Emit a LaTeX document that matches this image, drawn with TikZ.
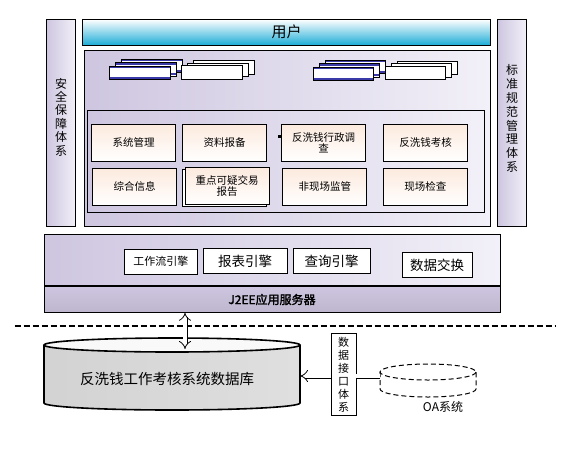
\documentclass[tikz,border=0pt]{standalone}
\usepackage{fontspec}
\newfontfamily\cjk{Noto Sans CJK SC}[AutoFakeBold=2]
\usetikzlibrary{arrows.meta}
\definecolor{lavdark}{RGB}{206,198,224}
\definecolor{lavlight}{RGB}{242,240,248}
\definecolor{peach}{RGB}{252,234,222}
\definecolor{usercyan}{RGB}{28,172,214}
\definecolor{winblue}{RGB}{58,58,168}

\begin{document}
\begin{tikzpicture}[x=1pt, y=-1pt, font=\cjk,
        panel/.style={draw=black, line width=0.9pt, inner sep=0pt, outer sep=0pt, left color=lavdark, right color=lavlight},
        sidebar/.style={panel, minimum width=28.8pt, minimum height=207.4pt},
        vtext/.style={align=center, inner sep=0pt, font=\cjk\fontsize{12}{13.4}\selectfont},
        func/.style={draw=black, line width=0.7pt, inner sep=0pt, top color=peach, bottom color=white, minimum width=84pt, minimum height=37pt, align=center, font=\cjk\fontsize{10.5}{11.5}\selectfont},
        funcshadow/.style={draw=black, line width=0.7pt, fill=white, minimum width=84pt, minimum height=37pt},
        engine/.style={draw=black, line width=0.7pt, fill=white, inner sep=0pt, minimum height=25.5pt, font=\cjk\fontsize{13.5}{15}\selectfont},
        winbox/.style={draw=black, line width=0.6pt, fill=white},
        winboxblue/.style={winbox, path picture={
            \draw[winblue, line width=1.8pt] ([yshift=-1.5pt]path picture bounding box.north west) -- ([yshift=-1.5pt]path picture bounding box.north east);
            \draw[winblue, line width=1.8pt] ([yshift=1.5pt]path picture bounding box.south west) -- ([yshift=1.5pt]path picture bounding box.south east);}},
        pipe/.style={draw=black, line width=0.8pt, double=white, double distance=3.4pt}
    ]
    \fill[white] (0,0) rectangle (570,448);
    \useasboundingbox (0,0) rectangle (570,448);

    % side bars
    \node[sidebar] (safebar) at (61.1,123) {};
    \node[vtext] (safetext) at (61.1,117) {安\\全\\保\\障\\体\\系};
    \node[sidebar] (normbar) at (512,123) {};
    \node[vtext, font=\cjk\fontsize{12}{13.9}\selectfont] (normtext) at (512,118.5) {标\\准\\规\\范\\管\\理\\体\\系};

    % user layer
    \node[draw=black, line width=0.9pt, inner sep=0pt, top color=white, bottom color=usercyan, minimum width=408pt, minimum height=26pt, font=\cjk\fontsize{15}{17}\selectfont] (user) at (286.7,32.3) {用户};

    % application panel
    \node[panel, minimum width=406.4pt, minimum height=176.4pt] (apppanel) at (287.5,138.5) {};
    \foreach \gx/\gy/\gd/\gs in {109.5/66/3.5/winboxblue, 181.7/65.5/2.5/winbox, 313/67/3.5/winboxblue, 385/66/2.5/winbox}{
        \foreach \k in {2,1,0}
            \draw[\gs] ({\gx+6*\k},{\gy-\gd*\k}) rectangle +(60.5,13.3);
    }
    \node[panel, minimum width=397.3pt, minimum height=102pt] (funcpanel) at (285.7,161.3) {};

    \node[func] (sysmgr) at (133.7,142.8) {系统管理};
    \node[func] (report) at (224.5,142.8) {资料报备};
    \node[func] (admininv) at (323.7,142.8) {反洗钱行政调\\查};
    \node[func] (assess) at (425.5,142.8) {反洗钱考核};
    \node[func] (info) at (134.5,186.8) {综合信息};
    \node[funcshadow] (suspshadow) at (224.7,187.8) {};
    \node[func] (susp) at (227.2,185.8) {重点可疑交易\\报告};
    \node[func] (offsite) at (324.8,186.8) {非现场监管};
    \node[func] (onsite) at (425.3,186.8) {现场检查};
    \node[fill=black, minimum size=3pt, inner sep=0pt] (mark) at (279,136.7) {};

    % engine layer
    \node[panel, minimum width=456pt, minimum height=50.7pt] (engpanel) at (272,259.7) {};
    \node[engine, minimum width=73pt, font=\cjk\fontsize{11}{13}\selectfont] (flow) at (160.8,261.7) {工作流引擎};
    \node[engine, minimum width=84pt] (repeng) at (245,261) {报表引擎};
    \node[engine, minimum width=77pt] (query) at (331.5,261) {查询引擎};
    \node[engine, minimum width=70pt] (exchange) at (437,265) {数据交换};
    \node[draw=black, line width=0.9pt, inner sep=0pt, top color=lavdark, middle color=white, bottom color=lavdark!92!black, minimum width=456pt, minimum height=25.6pt, font=\cjk\bfseries\fontsize{12}{14}\selectfont] (j2ee) at (272,299.5) {J2EE应用服务器};

    % separator
    \coordinate (sepL) at (14.6,326);
    \coordinate (sepR) at (554.7,326);
    \draw[line width=1.5pt, dashed, dash pattern=on 6pt off 3pt] (sepL) -- (sepR);

    % database
    \path[draw=black, line width=1.6pt, left color=gray!35, middle color=gray!4, right color=gray!25] (44,345) -- (44,403) arc[start angle=180, end angle=0, x radius=128, y radius=7] -- (300,345);
    \draw[line width=1.6pt, fill=gray!5] (172,345) ellipse[x radius=128, y radius=7];
    \node[font=\cjk\fontsize{14.5}{16}\selectfont] (dbname) at (167,379) {反洗钱工作考核系统数据库};
    \coordinate (dbtop) at (185,349);
    \coordinate (dbR) at (300,376);

    % OA system
    \draw[line width=1pt, dashed, dash pattern=on 5pt off 3pt] (380,372) -- (380,389) arc[start angle=180, end angle=0, x radius=48, y radius=8] -- (476,372);
    \draw[line width=1pt, dashed, dash pattern=on 5pt off 3pt] (428,372) ellipse[x radius=48, y radius=8];
    \node[font=\cjk\fontsize{12}{14}\selectfont] (oaname) at (443,407) {OA系统};
    \coordinate (oaL) at (380,376);

    % interface
    \node[draw=black, line width=0.8pt, fill=white, minimum width=25pt, minimum height=82pt, inner sep=0pt, align=center, font=\cjk\fontsize{11}{13}\selectfont] (iface) at (343.5,374.6) {数\\据\\接\\口\\体\\系};

    \draw[pipe, {Implies}-{Implies}] (j2ee.south -| dbtop) -- (dbtop);
    \draw[pipe, -{Implies}] (iface.west |- dbR) -- (dbR);
    \draw[pipe] (iface.east |- oaL) -- (oaL);
\end{tikzpicture}
\end{document}
